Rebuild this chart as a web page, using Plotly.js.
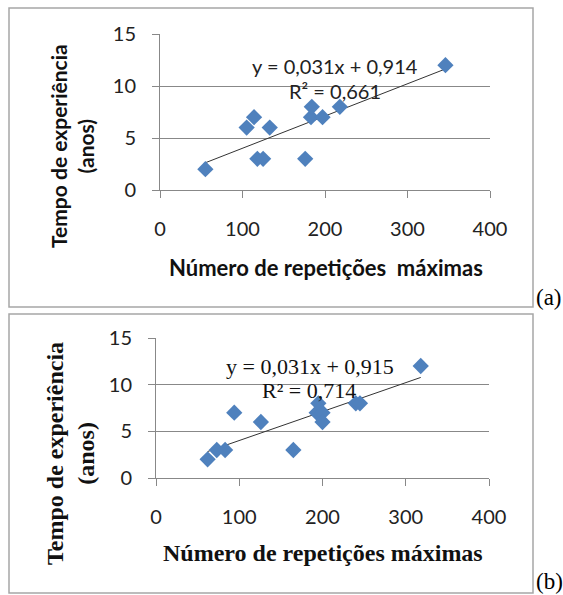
<!DOCTYPE html>
<html><head><meta charset="utf-8">
<script src="https://cdn.plot.ly/plotly-3.0.1.min.js"></script>
<style>body{margin:0;background:#fff}#chart{width:563px;height:595px}</style>
</head><body><div id="chart"></div>
<script>
// Panel (a)
const repsA = [55,105,114,118,125,133,176,183,184,197,218,346];
const anosA = [2,6,7,3,3,6,3,7,8,7,8,12];
const slopeA = 0.031, interceptA = 0.914;
const eqA = 'y = 0,031x + 0,914', r2A = 'R² = 0,661';
// Panel (b)
const repsB = [62,73,83,94,126,165,193,195,200,200,240,245,318];
const anosB = [2,3,3,7,6,3,7,8,7,6,8,8,12];
const slopeB = 0.031, interceptB = 0.915;
const eqB = 'y = 0,031x + 0,915', r2B = 'R² = 0,714';
// Axes
const xTicks = [0,100,200,300,400];
const yTicks = [0,5,10,15];
const xTitleA = 'Número de repetições  máximas';
const xTitleB = 'Número de repetições máximas';
const yTitle = 'Tempo de experiência<br>(anos)';
const panelLabels = ['(a)','(b)'];

const W = 563, H = 595;
const px = x => x / W;
const py = y => 1 - y / H;

function trend(xs, m, b) {
  const lo = Math.min(...xs), hi = Math.max(...xs);
  return {x: [lo, hi], y: [m * lo + b, m * hi + b]};
}
const tA = trend(repsA, slopeA, interceptA);
const tB = trend(repsB, slopeB, interceptB);

const blue = '#4F81BD';
const sans = 'Lato, "Liberation Sans", sans-serif';
const serif = '"Liberation Serif", "DejaVu Serif", serif';

const data = [
  {x: tA.x, y: tA.y, mode: 'lines', line: {color: '#333', width: 1}, xaxis: 'x', yaxis: 'y', hoverinfo: 'skip'},
  {x: repsA, y: anosA, mode: 'markers', type: 'scatter', marker: {symbol: 'diamond', size: 12.5, color: blue}, xaxis: 'x', yaxis: 'y'},
  {x: tB.x, y: tB.y, mode: 'lines', line: {color: '#333', width: 1}, xaxis: 'x2', yaxis: 'y2', hoverinfo: 'skip'},
  {x: repsB, y: anosB, mode: 'markers', type: 'scatter', marker: {symbol: 'diamond', size: 12.5, color: blue}, xaxis: 'x2', yaxis: 'y2'}
];

const tickFont = {family: sans, size: 20, color: '#222'};
function xax(domain, anchor) {
  return {domain, anchor, range: [0, 400], tickvals: xTicks, ticks: 'outside', ticklen: 7,
    tickcolor: '#888', showline: true, linecolor: '#888', linewidth: 1, showgrid: false,
    zeroline: false, tickfont: tickFont, ticklabelstandoff: 14, fixedrange: true};
}
function yax(domain, anchor) {
  return {domain, anchor, range: [0, 15], tickvals: yTicks, ticks: 'outside', ticklen: 7,
    tickcolor: '#888', showline: true, linecolor: '#888', linewidth: 1, showgrid: true,
    gridcolor: '#888', gridwidth: 1, zeroline: false, tickfont: tickFont, ticklabelstandoff: 12, fixedrange: true};
}

function ann(x, y, text, font, extra) {
  return Object.assign({xref: 'paper', yref: 'paper', x: px(x), y: py(y), text, font,
    showarrow: false, xanchor: 'center', yanchor: 'middle'}, extra || {});
}

const layout = {
  width: W, height: H, margin: {l: 0, r: 0, t: 0, b: 0},
  paper_bgcolor: '#fff', plot_bgcolor: '#fff', showlegend: false,
  xaxis: xax([px(160), px(490)], 'y'),
  yaxis: yax([py(190), py(34)], 'x'),
  xaxis2: xax([px(156), px(489)], 'y2'),
  yaxis2: yax([py(478), py(338)], 'x2'),
  shapes: [
    {type: 'rect', xref: 'paper', yref: 'paper', x0: px(9), x1: px(533), y0: py(307), y1: py(8), line: {color: '#a6a6a6', width: 1.5}},
    {type: 'rect', xref: 'paper', yref: 'paper', x0: px(9), x1: px(533), y0: py(593), y1: py(314), line: {color: '#a6a6a6', width: 1.5}}
  ],
  annotations: [
    ann(335, 66, eqA, {family: sans, size: 20, color: '#222'}),
    ann(335, 91, r2A, {family: sans, size: 20, color: '#222'}),
    ann(326, 267, '<b>' + xTitleA + '</b>', {family: sans, size: 22, color: '#111'}),
    ann(72, 146, '<b>' + yTitle + '</b>', {family: sans, size: 21, color: '#111'}, {textangle: -90}),
    ann(549, 297, panelLabels[0], {family: serif, size: 23, color: '#000'}),
    ann(310, 366, eqB, {family: serif, size: 22, color: '#111'}),
    ann(309, 390, r2B, {family: serif, size: 22, color: '#111'}),
    ann(323, 553, '<b>' + xTitleB + '</b>', {family: serif, size: 24, color: '#111'}),
    ann(70, 454, '<b>' + yTitle + '</b>', {family: serif, size: 24, color: '#111'}, {textangle: -90}),
    ann(549, 581, panelLabels[1], {family: serif, size: 23, color: '#000'})
  ]
};

Plotly.newPlot('chart', data, layout, {displayModeBar: false, staticPlot: true});
</script></body></html>
